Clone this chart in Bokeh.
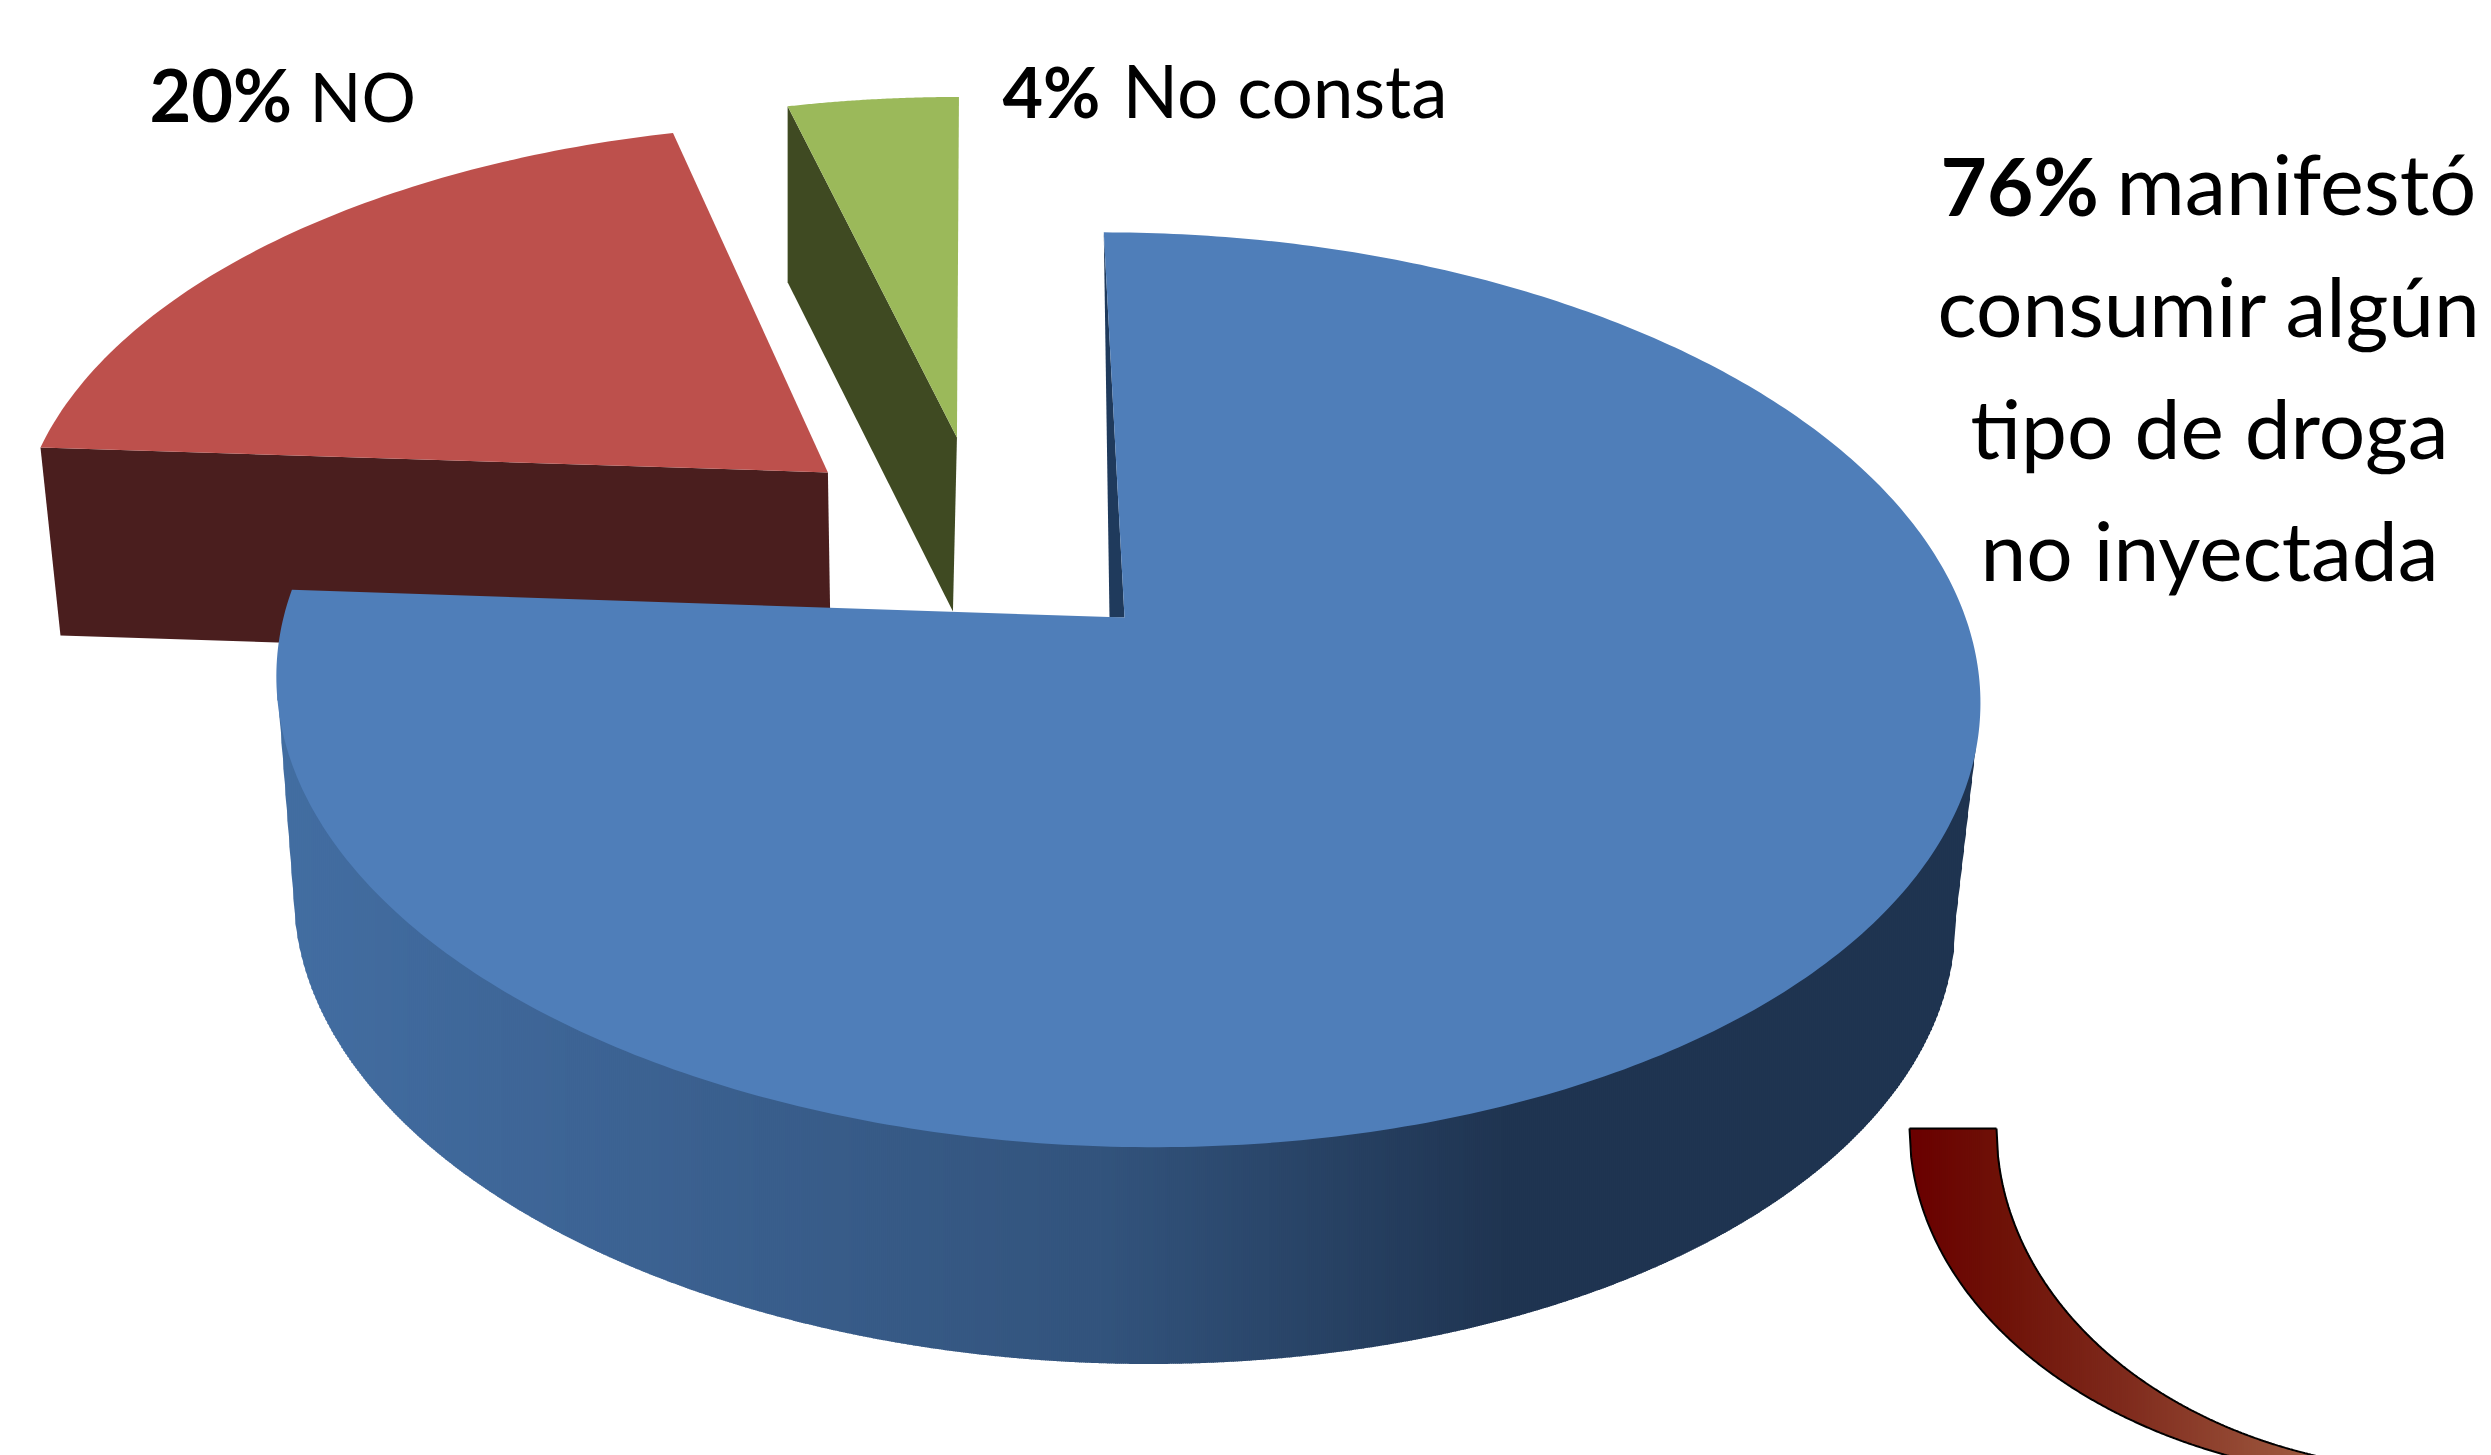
import numpy as np
from bokeh.plotting import figure
from bokeh.embed import file_html
from bokeh.resources import INLINE
from bokeh.core.properties import value

# ---- chart data ----
categories = ["manifestó consumir algún tipo de droga no inyectada", "NO", "No consta"]
shares = [76, 20, 4]
bold_labels = ["76%", "20%", "4%"]
label_tails = ["manifestó", "NO", "No consta"]
more_lines = ["consumir algún", "tipo de droga", "no inyectada"]

# ---- styles / projection ----
TOP = dict(X=1124.0, Y=617.0, r=841.0, s=24.0, b=446.0, k=0.158)
BOT = dict(X=1120.0, Y=835.0, r=820.0, s=24.0, b=445.0, k=0.158)
EXPLODE = [(0.0, 0.0), (-0.362, -0.343), (-0.2005, -0.431)]
FACE = ["#4f7eb9", "#bd504c", "#9bb95a"]
SIDE = [None, "#4a1e1e", "#3f4a22"]
SHIFT_A = [None, (20, 188), (0, 176)]     # outer corner drop
SHIFT_B = [None, (3, 188), (-4, 174)]     # apex drop
FONT = "Lato"
BASE_SHIFT = 0.41


def proj(theta, rad, off, P):
    u = off[0] + rad * np.sin(theta)
    v = off[1] - rad * np.cos(theta)
    d = 1 - P["k"] * v
    return P["X"] + (P["r"] * u + P["s"] * v) / d, P["Y"] + P["b"] * v / d


def ramp(x, stops):
    xs = [s[0] for s in stops]
    out = []
    for c in range(3):
        ch = [int(s[1][1 + 2 * c:3 + 2 * c], 16) for s in stops]
        out.append(np.interp(x, xs, ch))
    return ["#%02x%02x%02x" % (int(r), int(g), int(b)) for r, g, b in zip(*out)]


p = figure(width=2491, height=1455, x_range=(0, 2491), y_range=(1455, 0),
           x_axis_location=None, y_axis_location=None, toolbar_location=None,
           output_backend="svg", min_border=0, outline_line_color=None,
           background_fill_color="white", border_fill_color="white")
p.grid.visible = False

cum = np.cumsum([0] + shares) * 3.6 * np.pi / 180
slices = list(zip(cum[:-1], cum[1:]))

# ---- exploded small slices (back) ----
for i in (1, 2):
    a0, a1 = slices[i]
    ax, ay = proj(0.0, 0.0, EXPLODE[i], TOP)
    cx, cy = proj(a0, 1.0, EXPLODE[i], TOP)
    sa, sb = SHIFT_A[i], SHIFT_B[i]
    p.patch([cx, ax, ax + sb[0], cx + sa[0]], [cy, ay, ay + sb[1], cy + sa[1]],
            fill_color=SIDE[i], line_color=None)
    th = np.linspace(a0, a1, 80)
    ex, ey = proj(th, 1.0, EXPLODE[i], TOP)
    p.patch(np.r_[ax, ex], np.r_[ay, ey], fill_color=FACE[i], line_color=None)


def strips(xs, upper, lower, colors, w=2.0, ov=0.7):
    sx, sy = [], []
    for x0, u0, u1, l0, l1 in zip(xs[:-1], upper[:-1], upper[1:], lower[:-1], lower[1:]):
        sx.append([x0, x0 + w + ov, x0 + w + ov, x0])
        sy.append([u0, u1, l1, l0])
    p.patches(sx, sy, fill_color=colors[:-1], line_color=None)


# ---- big slice: side wall ----
th = np.linspace(0, 2 * np.pi, 1440)
tx, ty = proj(th, 1.0, EXPLODE[0], TOP)
bx, by = proj(th, 1.0, EXPLODE[0], BOT)
low = by >= by[np.argmax(bx)]
order = np.argsort(bx[low])
sx = np.r_[tx[np.argmin(tx)], bx[low][order], tx[np.argmax(tx)]]
sy = np.r_[ty[np.argmin(tx)], by[low][order], ty[np.argmax(tx)]]
xs = np.arange(tx.min() + 1, tx.max() - 4, 2.0)
bottoms = np.interp(xs, sx, sy)
cols = ramp(xs, [(278, "#436ea2"), (500, "#3f6799"), (1100, "#33547d"),
                 (1500, "#203552"), (1980, "#1f3450")])
strips(xs, np.full_like(xs, 700.0), bottoms, cols)

# thin inner wall beside the big slice
a0, a1 = slices[0]
ax, ay = proj(0.0, 0.0, EXPLODE[0], TOP)
cx, cy = proj(a0, 1.0, EXPLODE[0], TOP)
p.patch([cx, ax, ax - 15], [cy, ay, ay], fill_color="#1f3a5c", line_color=None)

# big slice: upper face
th = np.linspace(a0, a1, 400)
ex, ey = proj(th, 1.0, EXPLODE[0], TOP)
p.patch(np.r_[ax, ex], np.r_[ay, ey], fill_color=FACE[0], line_color=None)


# ---- curved call-out ----
def arc(x, cx, a, b):
    c = np.clip((cx - x) / a, -1, 1)
    return 1128 + b * np.sqrt(1 - c ** 2)


OUT = (2409.0, 500.0, 351.0)
INN = (2446.0, 450.0, 342.0)
ax_s = np.arange(1909, 2409, 2.0)
inner_y = np.where(ax_s < 1996, 1128.0, arc(ax_s, *INN))
outer_y = arc(ax_s, *OUT)
acol = ramp(ax_s, [(1909, "#6a0000"), (2000, "#6f1208"), (2120, "#7f2a1c"),
                   (2312, "#a05c42"), (2409, "#a86a50")])
strips(ax_s, inner_y, outer_y, acol)
t = np.linspace(1909, 2409, 300)
p.line(t, arc(t, *OUT), line_color="black", line_width=2)
t2 = np.linspace(1996, 2446, 300)
p.line(t2, arc(t2, *INN), line_color="black", line_width=2)
p.line([1909, 1996], [1128, 1128], line_color="black", line_width=2)


# ---- labels ----
def label(x, y, s, fs, bold=False, align="left"):
    p.text([x], [y - BASE_SHIFT * fs], text=[s], text_font=value(FONT),
           text_font_size=f"{fs}px",
           text_font_style="bold" if bold else "normal", text_color="black",
           text_align=align, text_baseline="alphabetic")


label(1940, 217, bold_labels[0], 80, True)
label(2116, 217, label_tails[0], 83)
for s, y in zip(more_lines, [338, 460, 582]):
    label(2209, y, s, 82, align="center")
label(149, 123, bold_labels[1], 72, True)
label(309, 123, label_tails[1], 68)
label(1002, 119, bold_labels[2], 70, True)
label(1122, 119, label_tails[2], 73)

open("out.html", "w").write(file_html(p, INLINE))
